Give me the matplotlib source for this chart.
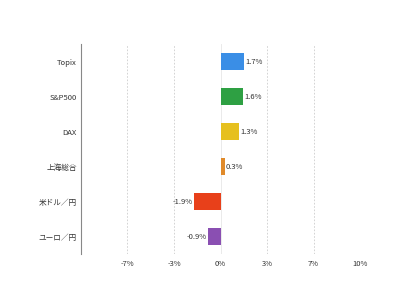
import numpy as np
import matplotlib
matplotlib.use('Agg')
from matplotlib import pyplot as plt

plt.rcParams['font.family'] = ['Noto Sans CJK JP', 'DejaVu Sans']

# datos
categorias = ['Topix', 'S&P500', 'DAX', '上海総合', '米ドル／円', 'ユーロ／円']
valores = [1.7, 1.6, 1.3, 0.3, -1.9, -0.9]
colores = ['#3a8ee6', '#2ea043', '#e6c01e', '#e08a2a', '#e8401a', '#8a4fb2']
ticks = [-20/3, -10/3, 0, 10/3, 20/3, 10]
tick_labels = ['-7%', '-3%', '0%', '3%', '7%', '10%']

fig = plt.figure(figsize=(4, 3), dpi=100)
ax = fig.add_axes([0.2025, 0.153, 0.6975, 0.7])

y = np.arange(len(categorias))[::-1]
ax.barh(y, valores, height=0.5, color=colores, zorder=3)

for yi, v in zip(y, valores):
  if v >= 0:
    ax.text(v + 0.1, yi, f'{v:.1f}%', va='center', ha='left', fontsize=5.5, color='#333333')
  else:
    ax.text(v - 0.1, yi, f'{v:.1f}%', va='center', ha='right', fontsize=5.5, color='#333333')

ax.set_xlim(-10, 10)
ax.set_ylim(-0.5, len(categorias) - 0.5)
ax.set_yticks(y)
ax.set_yticklabels(categorias, fontsize=5.5, color='#333333')
ax.set_xticks(ticks)
ax.set_xticklabels(tick_labels, fontsize=5.5, color='#333333')
ax.tick_params(axis='x', length=0, pad=4)
ax.tick_params(axis='y', length=0, pad=3)

for t in ticks:
  if t != 0:
    ax.axvline(t, color='#cccccc', linestyle=(0, (2, 2)), linewidth=0.6, zorder=1)
ax.axvline(0, color='#e6e6e6', linewidth=0.6, zorder=1)

for s in ['top', 'right', 'bottom']:
  ax.spines[s].set_visible(False)
ax.spines['left'].set_color('#888888')
ax.spines['left'].set_linewidth(0.8)

fig.savefig('out.png', dpi=100)
